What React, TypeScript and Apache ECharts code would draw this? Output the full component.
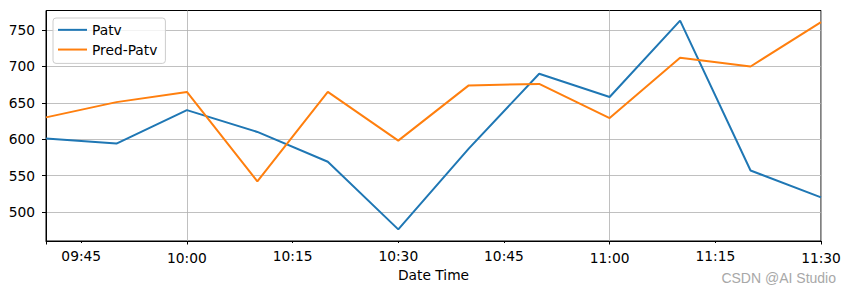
import React, { useEffect, useRef } from "react";
import * as echarts from "echarts";

const times = ["09:40", "09:50", "10:00", "10:10", "10:20", "10:30", "10:40", "10:50", "11:00", "11:10", "11:20", "11:30"];
const patv = [601, 594, 640, 610, 569, 476, 587, 690, 658, 763, 557, 520];
const predPatv = [630, 651, 665, 542, 665, 598, 674, 676, 629, 712, 700, 761];
const minorTickLabels = ["09:45", "10:15", "10:30", "10:45", "11:15"];
const majorTickLabels = ["10:00", "11:00", "11:30"];
const majorTicks = ["09:40", "10:00", "11:00", "11:30"];
const yTicks = [500, 550, 600, 650, 700, 750];

const toMin = (s: string) => {
  const [h, m] = s.split(":").map(Number);
  return h * 60 + m;
};
const fmt = (v: number) => {
  const h = Math.floor(v / 60);
  const m = Math.round(v - h * 60);
  return `${String(h).padStart(2, "0")}:${String(m).padStart(2, "0")}`;
};

const FONT = "DejaVu Sans";
const FS = 13.8;

export default function App() {
  const ref = useRef<HTMLDivElement>(null);
  useEffect(() => {
    if (!ref.current) return;
    const chart = echarts.init(ref.current, undefined, { renderer: "svg" });
    const xMin = toMin(times[0]);
    const xMax = toMin(times[times.length - 1]);
    chart.setOption({
      animation: false,
      backgroundColor: "#ffffff",
      grid: {
        left: 46,
        right: 30,
        top: 10.5,
        bottom: 53,
        show: true,
        borderColor: "#000000",
        borderWidth: 1,
        containLabel: false,
        outerBoundsMode: "none",
      },
      legend: {
        orient: "vertical",
        left: 53,
        top: 18,
        padding: [4, 8, 6, 5],
        itemWidth: 29,
        itemHeight: 2,
        itemGap: 4,
        itemTextGap: 11,
        icon: "rect",
        borderColor: "#cccccc",
        borderWidth: 1,
        borderRadius: 3,
        backgroundColor: "rgba(255,255,255,0.8)",
        textStyle: { fontSize: FS, fontFamily: FONT, color: "#000000", lineHeight: 15.7 },
        data: ["Patv", "Pred-Patv"],
      },
      xAxis: [
        {
          type: "value",
          min: xMin,
          max: xMax,
          position: "bottom",
          axisLine: { show: true, lineStyle: { color: "#000000", width: 1 } },
          axisTick: { show: true, length: 2, customValues: minorTickLabels.map(toMin), lineStyle: { color: "#000000", width: 1 } },
          axisLabel: {
            customValues: minorTickLabels.map(toMin),
            formatter: (v: number) => fmt(v),
            margin: 8,
            fontSize: FS,
            fontFamily: FONT,
            color: "#000000",
          },
          splitLine: { show: false },
          name: "Date Time",
          nameLocation: "middle",
          nameGap: 25,
          nameTextStyle: { fontSize: FS, fontFamily: FONT, color: "#000000" },
        },
        {
          type: "value",
          min: xMin,
          max: xMax,
          position: "bottom",
          offset: 0,
          axisLine: { show: false },
          axisTick: { show: true, length: 3.5, customValues: majorTicks.map(toMin), lineStyle: { color: "#000000", width: 1 } },
          axisLabel: {
            customValues: majorTickLabels.map(toMin),
            formatter: (v: number) => fmt(v),
            margin: 9.5,
            fontSize: FS,
            fontFamily: FONT,
            color: "#000000",
          },
          splitLine: { show: true, lineStyle: { color: "#b0b0b0", width: 0.8 } },
        },
      ],
      yAxis: {
        type: "value",
        min: 460,
        max: 777,
        axisLine: { show: true, lineStyle: { color: "#000000", width: 1 } },
        axisTick: { show: true, length: 4, customValues: yTicks, lineStyle: { color: "#000000", width: 1 } },
        axisLabel: {
          customValues: yTicks,
          margin: 11,
          fontSize: FS,
          fontFamily: FONT,
          color: "#000000",
        },
        splitLine: { show: true, lineStyle: { color: "#b0b0b0", width: 0.8 } },
      },
      series: [
        {
          name: "Patv",
          type: "line",
          xAxisIndex: 0,
          symbol: "none",
          color: "#1f77b4",
          lineStyle: { width: 2, color: "#1f77b4" },
          data: times.map((t, i) => [toMin(t), patv[i]]),
        },
        {
          name: "Pred-Patv",
          type: "line",
          xAxisIndex: 0,
          symbol: "none",
          color: "#ff7f0e",
          lineStyle: { width: 2, color: "#ff7f0e" },
          data: times.map((t, i) => [toMin(t), predPatv[i]]),
        },
      ],
      graphic: [
        {
          type: "text",
          x: 836,
          y: 278,
          style: {
            text: "CSDN @AI Studio",
            fill: "#a8a8a8",
            fontSize: 14,
            fontFamily: "Liberation Sans",
            textAlign: "right",
            textVerticalAlign: "middle",
          },
        },
      ],
    });
    return () => chart.dispose();
  }, []);
  return <div ref={ref} style={{ position: "fixed", left: 0, top: 0, width: 851, height: 294 }} />;
}
